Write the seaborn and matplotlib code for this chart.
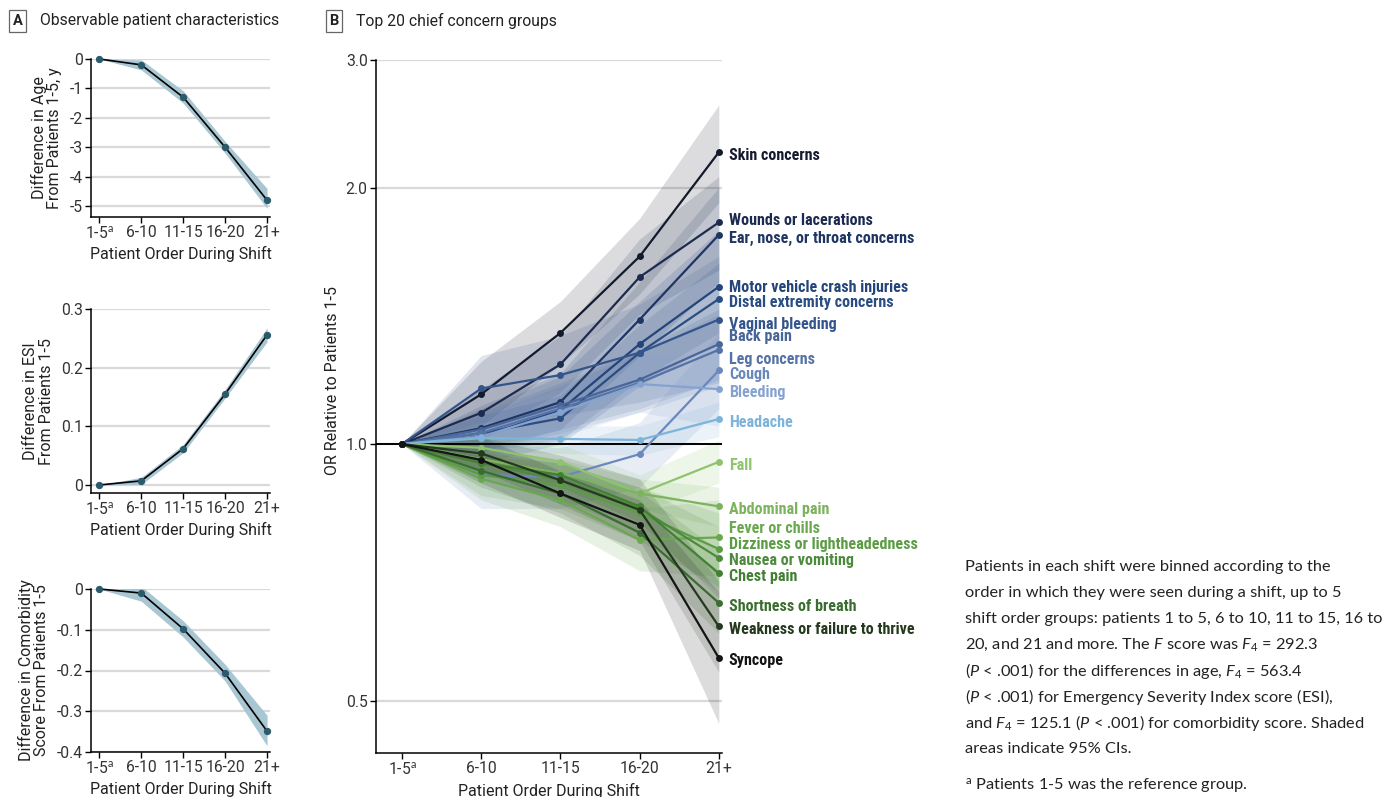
import numpy as np
import pandas as pd
import matplotlib
matplotlib.use("Agg")
import matplotlib.pyplot as plt
import seaborn as sns
from matplotlib import font_manager as fm
from matplotlib.ticker import FixedLocator, FixedFormatter, NullLocator

sns.set_theme(style="ticks")

avail = {f.name for f in fm.fontManager.ttflist}


def pick(cands, default="DejaVu Sans"):
    for c in cands:
        if c in avail:
            return c
    return default


BASE = pick(["Roboto", "Open Sans", "Noto Sans"])
COND = pick(["Liberation Sans Narrow", "Roboto Condensed", "Open Sans Condensed", "Roboto"])
BODY = pick(["Lato", "Open Sans", "Noto Sans"])
plt.rcParams["font.family"] = [BASE, "DejaVu Sans"]
plt.rcParams["axes.unicode_minus"] = False
plt.rcParams["mathtext.fontset"] = "custom"
plt.rcParams["mathtext.rm"] = BODY
plt.rcParams["mathtext.it"] = BODY + ":italic"
plt.rcParams["mathtext.bf"] = BODY + ":bold"

# ---------------- data ----------------
order_labels = ["1-5$^{\\mathrm{a}}$", "6-10", "11-15", "16-20", "21+"]

age_diff = [0, -0.2, -1.3, -3.0, -4.8]
age_lo = [0, -0.37, -1.5, -3.2, -5.08]
age_hi = [0, -0.03, -1.08, -2.8, -4.4]

esi_diff = [0, 0.007, 0.062, 0.155, 0.256]
esi_lo = [0, 0.001, 0.055, 0.148, 0.244]
esi_hi = [0, 0.013, 0.069, 0.163, 0.268]

com_diff = [0, -0.01, -0.098, -0.207, -0.349]
com_lo = [0, -0.03, -0.118, -0.226, -0.385]
com_hi = [0, 0.007, -0.078, -0.185, -0.31]

concern_groups = [
    "Skin concerns", "Wounds or lacerations", "Ear, nose, or throat concerns",
    "Motor vehicle crash injuries", "Distal extremity concerns", "Vaginal bleeding",
    "Back pain", "Leg concerns", "Cough", "Bleeding", "Headache",
    "Fall", "Abdominal pain", "Fever or chills", "Dizziness or lightheadedness",
    "Nausea or vomiting", "Chest pain", "Shortness of breath",
    "Weakness or failure to thrive", "Syncope",
]

or_values = [
    [1, 1.144, 1.35, 1.66, 2.20],
    [1, 1.088, 1.24, 1.57, 1.82],
    [1, 1.044, 1.12, 1.40, 1.76],
    [1, 1.02, 1.096, 1.31, 1.53],
    [1, 1.03, 1.072, 1.28, 1.48],
    [1, 1.162, 1.205, 1.28, 1.40],
    [1, 1.04, 1.11, 1.19, 1.31],
    [1, 1.03, 1.10, 1.18, 1.29],
    [1, 0.92, 0.915, 0.973, 1.22],
    [1, 1.02, 1.09, 1.176, 1.16],
    [1, 1.016, 1.014, 1.011, 1.07],
    [1, 0.99, 0.953, 0.875, 0.953],
    [1, 0.96, 0.924, 0.875, 0.845],
    [1, 0.91, 0.86, 0.772, 0.777],
    [1, 0.92, 0.895, 0.83, 0.753],
    [1, 0.95, 0.907, 0.841, 0.735],
    [1, 0.95, 0.92, 0.845, 0.705],
    [1, 0.93, 0.875, 0.787, 0.651],
    [1, 0.975, 0.907, 0.837, 0.611],
    [1, 0.958, 0.875, 0.804, 0.561],
]
or_lower = [
    [1, 1.05, 1.24, 1.50, 1.92],
    [1, 1.02, 1.15, 1.42, 1.60],
    [1, 0.98, 1.04, 1.27, 1.55],
    [1, 0.95, 1.00, 1.17, 1.32],
    [1, 0.98, 1.01, 1.19, 1.35],
    [1, 1.06, 1.08, 1.12, 1.18],
    [1, 0.99, 1.04, 1.10, 1.19],
    [1, 0.98, 1.03, 1.09, 1.17],
    [1, 0.84, 0.84, 0.89, 1.10],
    [1, 0.96, 1.02, 1.09, 1.05],
    [1, 0.98, 0.975, 0.97, 1.02],
    [1, 0.95, 0.91, 0.83, 0.90],
    [1, 0.93, 0.89, 0.84, 0.80],
    [1, 0.86, 0.80, 0.71, 0.70],
    [1, 0.87, 0.84, 0.77, 0.68],
    [1, 0.91, 0.86, 0.79, 0.67],
    [1, 0.92, 0.89, 0.81, 0.66],
    [1, 0.89, 0.83, 0.74, 0.60],
    [1, 0.93, 0.85, 0.77, 0.54],
    [1, 0.90, 0.82, 0.75, 0.47],
]
or_upper = [
    [1, 1.25, 1.47, 1.84, 2.50],
    [1, 1.16, 1.34, 1.74, 2.06],
    [1, 1.11, 1.21, 1.55, 2.00],
    [1, 1.10, 1.20, 1.47, 1.78],
    [1, 1.08, 1.14, 1.38, 1.63],
    [1, 1.27, 1.34, 1.46, 1.66],
    [1, 1.09, 1.18, 1.29, 1.44],
    [1, 1.08, 1.17, 1.28, 1.42],
    [1, 1.00, 0.99, 1.06, 1.35],
    [1, 1.08, 1.16, 1.27, 1.28],
    [1, 1.05, 1.05, 1.05, 1.12],
    [1, 1.03, 1.00, 0.92, 1.01],
    [1, 0.99, 0.96, 0.91, 0.89],
    [1, 0.96, 0.92, 0.84, 0.86],
    [1, 0.97, 0.95, 0.89, 0.83],
    [1, 0.99, 0.95, 0.89, 0.80],
    [1, 0.98, 0.95, 0.88, 0.75],
    [1, 0.97, 0.92, 0.84, 0.71],
    [1, 1.02, 0.97, 0.91, 0.69],
    [1, 1.02, 0.93, 0.86, 0.67],
]

# ---------------- style ----------------
group_colors = [
    "#141a2e", "#1c2b50", "#1f3562", "#24457a", "#2a4d82", "#33558c",
    "#4a6699", "#5572a6", "#6b88bd", "#86a3d0", "#7eb3da",
    "#8fc46f", "#7db35f", "#6aa84f", "#5c9c45", "#4e8a3d", "#447f36",
    "#3a6e30", "#25391e", "#141414",
]
label_shift_px = [2, -3, 2, -1, 2, 3, -9, 8, 3, 2, 2, 2, 2, -10, -6, 1, 2, 2, 2, 1]

W, H = 1398, 797
fig = plt.figure(figsize=(W / 100, H / 100), dpi=100)
x = np.arange(len(order_labels))
GRID = "#d9d9d9"
TICKC = "#333333"
TXT = "#222222"
TICK_FS = 11.3
LAB_FS = 11.5


def style_axes(ax):
    sns.despine(ax=ax)
    for s in ["left", "bottom"]:
        ax.spines[s].set_color("black")
        ax.spines[s].set_linewidth(1.1)
    ax.tick_params(axis="both", direction="out", length=4, width=1, color="black",
                   labelsize=TICK_FS, labelcolor=TICKC, pad=2)
    ax.grid(axis="y", color=GRID, lw=1.6)
    ax.grid(axis="x", visible=False)
    ax.set_axisbelow(True)


def panel_a(rect, vals, lo, hi, ylim, yticks, ylabels, ylabel):
    ax = fig.add_axes(rect)
    ax.fill_between(x, lo, hi, color="#a9c6d3", lw=0, zorder=1)
    df = pd.DataFrame({"pos": x, "val": vals})
    sns.lineplot(data=df, x="pos", y="val", color="black", lw=1.2, marker="o",
                 markersize=4.5, markerfacecolor="#2b5a6b", markeredgecolor="#2b5a6b",
                 ax=ax, zorder=2, clip_on=False, errorbar=None)
    ax.set_xlim(-0.2, 4.07)
    ax.set_ylim(*ylim)
    ax.set_yticks(yticks)
    ax.set_yticklabels(ylabels)
    ax.set_xticks(x)
    ax.set_xticklabels(order_labels)
    style_axes(ax)
    ax.set_xlabel("Patient Order During Shift", fontsize=LAB_FS, color=TXT, labelpad=3)
    ax.set_ylabel(ylabel, fontsize=LAB_FS, color=TXT, labelpad=5, linespacing=1.05)
    return ax


def rect_px(left, top, right, bottom):
    return [left / W, 1 - bottom / H, (right - left) / W, (bottom - top) / H]


panel_a(rect_px(91, 59, 270, 217), age_diff, age_lo, age_hi, (-5.37, 0),
        [0, -1, -2, -3, -4, -5], ["0", "-1", "-2", "-3", "-4", "-5"],
        "Difference in Age\nFrom Patients 1-5, y")
panel_a(rect_px(91, 309, 270, 493), esi_diff, esi_lo, esi_hi, (-0.0137, 0.3),
        [0, 0.1, 0.2, 0.3], ["0", "0.1", "0.2", "0.3"],
        "Difference in ESI\nFrom Patients 1-5")
panel_a(rect_px(91, 589, 270, 752), com_diff, com_lo, com_hi, (-0.4, 0),
        [0, -0.1, -0.2, -0.3, -0.4], ["0", "-0.1", "-0.2", "-0.3", "-0.4"],
        "Difference in Comorbidity\nScore From Patients 1-5")

# ---------------- panel B ----------------
axB = fig.add_axes(rect_px(376, 60, 722, 753))
axB.set_yscale("log")
rows = []
for g, v, lo, hi in zip(concern_groups, or_values, or_lower, or_upper):
    for p, a, b, c in zip(x, v, lo, hi):
        rows.append({"group": g, "pos": p, "or": a, "lo": b, "hi": c})
dfB = pd.DataFrame(rows)

for g, col in zip(concern_groups, group_colors):
    d = dfB[dfB.group == g]
    axB.fill_between(d["pos"], d["lo"], d["hi"], color=col, alpha=0.15, lw=0, zorder=1)
axB.axhline(1.0, color="black", lw=1.4, zorder=2)
for g, col in zip(concern_groups, group_colors):
    d = dfB[dfB.group == g]
    sns.lineplot(data=d, x="pos", y="or", color=col, lw=1.6, marker="o", markersize=5,
                 markeredgewidth=0, ax=axB, zorder=3, clip_on=False, errorbar=None)

ytop = 2 ** 1.497
axB.set_xlim(-0.328, 4.04)
axB.set_ylim(0.434, ytop)
axB.yaxis.set_major_locator(FixedLocator([0.5, 1.0, 2.0, ytop]))
axB.yaxis.set_major_formatter(FixedFormatter(["0.5", "1.0", "2.0", "3.0"]))
axB.yaxis.set_minor_locator(NullLocator())
axB.set_xticks(x)
axB.set_xticklabels(order_labels)
style_axes(axB)
axB.set_xlabel("Patient Order During Shift", fontsize=LAB_FS, color=TXT, labelpad=4)
axB.set_ylabel("OR Relative to Patients 1-5", fontsize=LAB_FS, color=TXT, va="center")
axB.yaxis.set_label_coords(-0.125, 0.538)

for g, col, v, sh in zip(concern_groups, group_colors, or_values, label_shift_px):
    axB.annotate(g, xy=(4, v[-1]), xytext=(10, -sh), textcoords="offset pixels",
                 ha="left", va="center_baseline", color=col, fontsize=11.6,
                 fontweight="bold", family=[COND, "DejaVu Sans"], annotation_clip=False)

# ---------------- titles ----------------
box = dict(boxstyle="square,pad=0.25", fc="white", ec="#666666", lw=0.9)
fig.text(17.5 / W, 1 - 21 / H, "A", ha="center", va="center", fontsize=10.5,
         fontweight="bold", color=TXT, bbox=box)
fig.text(40 / W, 1 - 21 / H, "Observable patient characteristics", ha="left",
         va="center", fontsize=11.3, color=TXT)
fig.text(334 / W, 1 - 21 / H, "B", ha="center", va="center", fontsize=10.5,
         fontweight="bold", color=TXT, bbox=box)
fig.text(356 / W, 1 - 21 / H, "Top 20 chief concern groups", ha="left",
         va="center", fontsize=11.3, color=TXT)

# ---------------- note ----------------
note_lines = [
    "Patients in each shift were binned according to the",
    "order in which they were seen during a shift, up to 5",
    "shift order groups: patients 1 to 5, 6 to 10, 11 to 15, 16 to",
    "20, and 21 and more. The $F$ score was $F_4$ = 292.3",
    "($P$ < .001) for the differences in age, $F_4$ = 563.4",
    "($P$ < .001) for Emergency Severity Index score (ESI),",
    "and $F_4$ = 125.1 ($P$ < .001) for comorbidity score. Shaded",
    "areas indicate 95% CIs.",
]
for i, line in enumerate(note_lines):
    fig.text(965 / W, 1 - (567 + 26 * i) / H, line, ha="left", va="center",
             fontsize=11.75, color=TXT, family=[BODY, "DejaVu Sans"])
fig.text(965 / W, 1 - 786 / H, "$^{\\mathrm{a}}$ Patients 1-5 was the reference group.",
         ha="left", va="center", fontsize=11.75, color=TXT, family=[BODY, "DejaVu Sans"])

fig.savefig("out.png", dpi=100)
